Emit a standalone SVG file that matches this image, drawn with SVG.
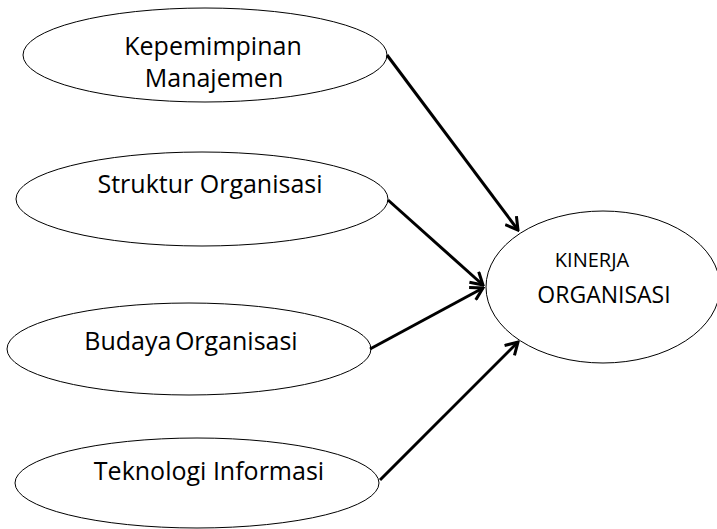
<svg xmlns="http://www.w3.org/2000/svg" width="717" height="529" viewBox="0 0 717 529">
<style>
.node ellipse{fill:#fff;stroke:#000;stroke-width:1}
.lbl{font-family:"Open Sans","Noto Sans",sans-serif;font-size:25px;fill:#000;text-anchor:middle}
.sm{font-size:20px}
.md{font-size:23px}
.conn line{stroke:#000;stroke-width:3;marker-end:url(#arr)}
</style>
<defs>
<marker id="arr" markerUnits="userSpaceOnUse" viewBox="0 0 16 16" refX="14" refY="8" markerWidth="16" markerHeight="16" orient="auto">
<path d="M2,1 L14,8 L2,15" fill="none" stroke="#000" stroke-width="3"/>
</marker>
</defs>
<rect width="717" height="529" fill="#fff"/>
<g id="n1" class="node"><ellipse cx="205" cy="55" rx="182" ry="47"/>
<text class="lbl" x="213" y="55">Kepemimpinan</text><text class="lbl" x="214" y="87">Manajemen</text></g>
<g id="n2" class="node"><ellipse cx="202" cy="199" rx="186" ry="47"/>
<text class="lbl" x="210" y="193">Struktur Organisasi</text></g>
<g id="n3" class="node"><ellipse cx="189" cy="349" rx="182" ry="46"/>
<text class="lbl" x="191" y="350" word-spacing="-3">Budaya Organisasi</text></g>
<g id="n4" class="node"><ellipse cx="197" cy="483" rx="182" ry="45"/>
<text class="lbl" x="209" y="480">Teknologi Informasi</text></g>
<g id="n5" class="node"><ellipse cx="603" cy="287" rx="117" ry="76"/>
<text class="lbl sm" x="592" y="267">KINERJA</text><text class="lbl md" x="604" y="303">ORGANISASI</text></g>
<g id="connectors" class="conn">
<line x1="387" y1="55" x2="518" y2="230"/>
<line x1="388" y1="200" x2="483" y2="285"/>
<line x1="370" y1="349" x2="483" y2="288"/>
<line x1="380" y1="480" x2="518" y2="342"/>
</g>
</svg>
